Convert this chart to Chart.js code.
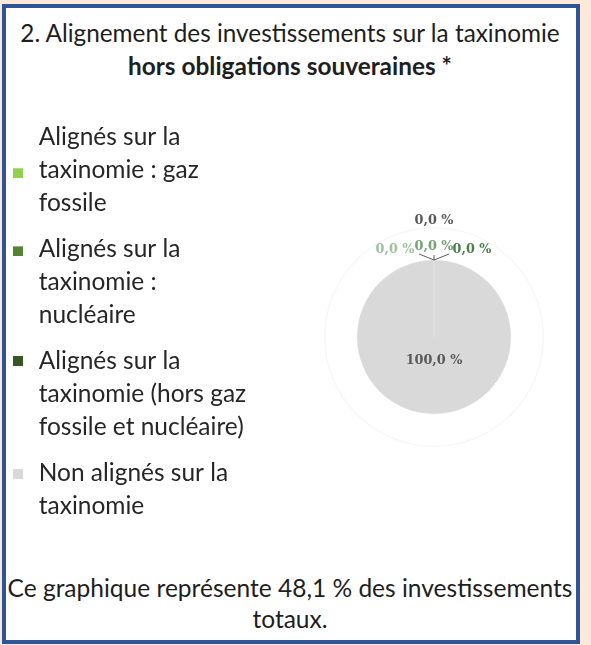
<!DOCTYPE html>
<html lang="fr"><head><meta charset="utf-8">
<script src="https://cdn.jsdelivr.net/npm/chart.js@4.4.1/dist/chart.umd.min.js"></script>
<style>
html,body{margin:0;padding:0;width:591px;height:645px;overflow:hidden;background:#fde9d9;position:relative;}
#frame{position:absolute;left:2px;top:4px;width:570px;height:632px;border:4px solid #2f5597;background:#fff;}
.txt{position:absolute;left:0;width:580px;text-align:center;font-family:Lato,sans-serif;color:#1e1e1e;white-space:nowrap;}
#wrap{position:absolute;left:-5px;top:111px;width:700px;height:452px;}
</style></head><body>
<div id="frame"></div>
<div class="txt" id="t1"></div>
<div class="txt" id="t2" style="font-weight:bold"></div>
<div class="txt" id="f1"></div>
<div class="txt" id="f2"></div>
<div id="wrap"><canvas id="c" width="700" height="452"></canvas></div>
<script>
// ---- data ----
const titleLines = ['2. Alignement des investissements sur la taxinomie', 'hors obligations souveraines *'];
const footerLines = ['Ce graphique représente 48,1 % des investissements', 'totaux.'];
const categories = [
  'Alignés sur la taxinomie : gaz fossile',
  'Alignés sur la taxinomie : nucléaire',
  'Alignés sur la taxinomie (hors gaz fossile et nucléaire)',
  'Non alignés sur la taxinomie',
  ''
];
const legendLines = [
  ['Alignés sur la', 'taxinomie : gaz', 'fossile'],
  ['Alignés sur la', 'taxinomie :', 'nucléaire'],
  ['Alignés sur la', 'taxinomie (hors gaz', 'fossile et nucléaire)'],
  ['Non alignés sur la', 'taxinomie']
];
const values = [0, 0, 0, 100, 0];
const sliceColors = ['#92d050', '#548235', '#375623', '#d9d9d9', '#7f7f7f'];
const labelColors = ['#9cc39b', '#72a472', '#4e7e4e', '#595959', '#595959'];

// ---- text layout ----
const mctx = document.createElement('canvas').getContext('2d');
function fitSize(text, weight, target) {
  mctx.font = weight + ' 100px Lato';
  return 100 * target / mctx.measureText(text).width;
}
function place(id, text, weight, size, center) {
  const el = document.getElementById(id);
  el.textContent = text;
  el.style.fontSize = size + 'px';
  el.style.lineHeight = (1.2 * size) + 'px';
  el.style.top = (center - 0.627 * size) + 'px';
}
const s1 = fitSize(titleLines[0], 'normal', 541);
place('t1', titleLines[0], 'normal', s1, 33);
const s2 = fitSize(titleLines[1], 'bold', 324);
place('t2', titleLines[1], 'bold', s2, 66);
const s3 = fitSize(footerLines[0], 'normal', 565);
place('f1', footerLines[0], 'normal', s3, 588);
place('f2', footerLines[1], 'normal', s3, 619);

const F = fitSize('fossile et nucléaire)', 'normal', 205);
const boxW = Math.min(F, Math.max(42 - F, 8));

// legend marker images: a 10px square, optionally lowered by some px
function marker(color, drop) {
  const c = document.createElement('canvas');
  c.width = 10;
  c.height = 10 + 2 * drop;
  const g = c.getContext('2d');
  g.fillStyle = color;
  g.fillRect(0, c.height - 10, 10, 10);
  return c;
}
const markerDrop = [36, 2, 0, 0];

// ---- chart ----
const total = values.reduce((a, b) => a + b, 0);
const fmt = v => (v / total * 100).toFixed(1).replace('.', ',') + ' %';

const sliceLabels = {
  id: 'sliceLabels',
  beforeDatasetsDraw(chart, args, opts) {
    const a = chart.getDatasetMeta(0).data[0];
    const ctx = chart.ctx;
    ctx.save();
    ctx.beginPath();
    ctx.arc(a.x, a.y, a.outerRadius * opts.ringRatio, 0, Math.PI * 2);
    ctx.strokeStyle = '#f7f7f7';
    ctx.lineWidth = 1.5;
    ctx.stroke();
    ctx.restore();
  },
  afterDatasetsDraw(chart, args, opts) {
    const meta = chart.getDatasetMeta(0);
    const ctx = chart.ctx;
    ctx.save();
    ctx.font = opts.font;
    ctx.textAlign = 'center';
    ctx.textBaseline = 'middle';
    meta.data.forEach((arc, i) => {
      const p = arc.getProps(['x', 'y', 'startAngle', 'endAngle', 'outerRadius']);
      const mid = (p.startAngle + p.endAngle) / 2;
      let ax, ay;
      if (p.endAngle - p.startAngle > 0) { ax = p.x; ay = p.y; }
      else { ax = p.x + Math.cos(mid) * p.outerRadius; ay = p.y + Math.sin(mid) * p.outerRadius; }
      const off = opts.offsets[i];
      const lead = opts.leaders[i];
      if (lead) {
        ctx.beginPath();
        ctx.moveTo(ax, ay);
        ctx.lineTo(ax + lead[0], ay + lead[1]);
        ctx.strokeStyle = '#595959';
        ctx.lineWidth = 1;
        ctx.stroke();
      }
      ctx.fillStyle = labelColors[i];
      ctx.fillText(fmt(values[i]), ax + off[0], ay + off[1]);
    });
    ctx.restore();
  }
};

const chart = new Chart(document.getElementById('c'), {
  type: 'pie',
  data: {
    labels: categories,
    datasets: [{
      data: values,
      backgroundColor: sliceColors,
      borderColor: 'rgba(255,255,255,0.18)',
      borderWidth: 1,
      hoverOffset: 0,
      offset: 0,
      radius: 77
    }]
  },
  options: {
    responsive: false,
    animation: false,
    events: [],
    devicePixelRatio: 1,
    layout: { padding: { left: 0, top: 0, bottom: 0, right: 0 } },
    plugins: {
      tooltip: { enabled: false },
      legend: {
        position: 'left',
        align: 'start',
        maxWidth: 400,
        labels: {
          usePointStyle: true,
          pointStyle: 'rect',
          boxWidth: boxW,
          boxHeight: 10,
          padding: 14,
          color: '#262626',
          font: { family: 'Lato', size: F, lineHeight: 32.7 / F },
          generateLabels: () => legendLines.map((lines, i) => ({
            text: lines,
            fillStyle: sliceColors[i],
            strokeStyle: sliceColors[i],
            lineWidth: 0,
            pointStyle: marker(sliceColors[i], markerDrop[i]),
            hidden: false,
            index: i,
            fontColor: '#262626'
          }))
        }
      },
      sliceLabels: {
        font: 'bold 12.8px "DejaVu Serif"',
        ringRatio: 1.42,
        offsets: [[-39, -10], [0, -13], [38, -10], [0, 24], [0, -39]],
        leaders: [[-15, -6], [0, -5], [15, -6], null, null]
      }
    }
  },
  plugins: [sliceLabels]
});

// centre the pie horizontally at page x = 434 (canvas offset -5)
const targetX = 434 + 5;
const ca = chart.chartArea;
chart.options.layout.padding.right = 700 - (2 * targetX - ca.left);
chart.update();
</script>
</body></html>
